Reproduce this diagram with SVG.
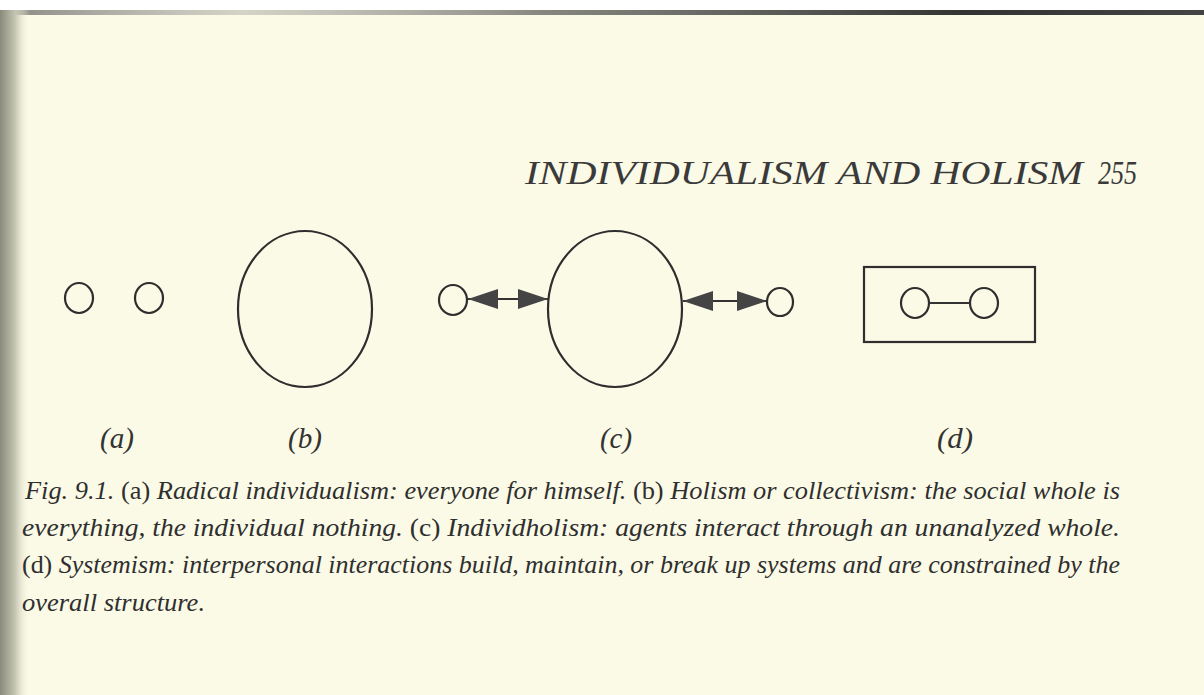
<svg xmlns="http://www.w3.org/2000/svg" width="1204" height="695" viewBox="0 0 1204 695">
<defs>
<linearGradient id="gutter" x1="0" y1="0" x2="1" y2="0">
<stop offset="0" stop-color="#8a8a7c"/>
<stop offset="0.5" stop-color="#c4c4b2"/>
<stop offset="1" stop-color="#fbfae6" stop-opacity="0"/>
</linearGradient>
<linearGradient id="topedge" x1="0" y1="0" x2="1" y2="0">
<stop offset="0" stop-color="#555" stop-opacity="0.7"/>
<stop offset="0.2" stop-color="#999" stop-opacity="0.4"/>
<stop offset="0.45" stop-color="#555" stop-opacity="0.7"/>
<stop offset="0.8" stop-color="#333"/>
<stop offset="1" stop-color="#444"/>
</linearGradient>
<marker id="head" viewBox="0 0 30 20" refX="30" refY="10" markerWidth="30" markerHeight="20" markerUnits="userSpaceOnUse" orient="auto-start-reverse">
<path d="M0,0 L30,10 L0,20 Z" fill="#444"/>
</marker>
<style>
.shape{fill:none;stroke:#2e2e2e;stroke-width:2.2}
.conn{fill:none;stroke:#333;stroke-width:2}
.lbl{font-family:"Liberation Serif",serif;font-style:italic;font-size:29px;fill:#333}
.cap{font-family:"Liberation Serif",serif;font-style:italic;font-size:26px;fill:#2f2f2f}
.up{font-style:normal}
.hdr{font-family:"Liberation Serif",serif;font-style:italic;font-size:33px;fill:#3a3a3a}
</style>
</defs>
<rect x="0" y="0" width="1204" height="695" fill="#fbfae6"/>
<rect x="0" y="0" width="1204" height="10" fill="#ffffff"/>
<rect x="0" y="10" width="1204" height="5" fill="url(#topedge)"/>
<rect x="0" y="10" width="30" height="685" fill="url(#gutter)"/>

<g id="header">
<text class="hdr" x="525" y="184" textLength="558" lengthAdjust="spacingAndGlyphs">INDIVIDUALISM AND HOLISM</text>
<text class="hdr" x="1098" y="184" textLength="39" lengthAdjust="spacingAndGlyphs">255</text>
</g>

<g id="node-a">
<ellipse class="shape" cx="79" cy="298" rx="14" ry="15"/>
<ellipse class="shape" cx="149" cy="298" rx="14" ry="15"/>
<text class="lbl" x="117" y="448" text-anchor="middle" textLength="34" lengthAdjust="spacingAndGlyphs">(a)</text>
</g>

<g id="node-b">
<ellipse class="shape" cx="305" cy="309" rx="67" ry="78"/>
<text class="lbl" x="305" y="448" text-anchor="middle" textLength="34" lengthAdjust="spacingAndGlyphs">(b)</text>
</g>

<g id="node-c">
<ellipse class="shape" cx="453" cy="300" rx="14" ry="15"/>
<ellipse class="shape" cx="615" cy="309" rx="67" ry="78"/>
<ellipse class="shape" cx="780" cy="302" rx="13" ry="14"/>
<text class="lbl" x="616" y="448" text-anchor="middle" textLength="32" lengthAdjust="spacingAndGlyphs">(c)</text>
</g>

<g id="node-d">
<rect class="shape" x="864" y="267" width="171" height="75"/>
<ellipse class="shape" cx="915" cy="303" rx="14" ry="15"/>
<ellipse class="shape" cx="984" cy="303" rx="14" ry="15"/>
<text class="lbl" x="955" y="448" text-anchor="middle" textLength="36" lengthAdjust="spacingAndGlyphs">(d)</text>
</g>

<g id="connectors">
<line class="conn" x1="468" y1="299" x2="548" y2="299" marker-start="url(#head)" marker-end="url(#head)"/>
<line class="conn" x1="683" y1="301" x2="767" y2="301" marker-start="url(#head)" marker-end="url(#head)"/>
<line class="conn" x1="929" y1="303" x2="970" y2="303"/>
</g>

<g id="caption">
<text class="cap" x="25" y="499" textLength="1095" lengthAdjust="spacingAndGlyphs">Fig. 9.1. <tspan class="up">(a)</tspan> Radical individualism: everyone for himself. <tspan class="up">(b)</tspan> Holism or collectivism: the social whole is</text>
<text class="cap" x="22" y="536" textLength="1098" lengthAdjust="spacingAndGlyphs">everything, the individual nothing. <tspan class="up">(c)</tspan> Individholism: agents interact through an unanalyzed whole.</text>
<text class="cap" x="22" y="573" textLength="1098" lengthAdjust="spacingAndGlyphs"><tspan class="up">(d)</tspan> Systemism: interpersonal interactions build, maintain, or break up systems and are constrained by the</text>
<text class="cap" x="22" y="611" textLength="183" lengthAdjust="spacingAndGlyphs">overall structure.</text>
</g>
</svg>
